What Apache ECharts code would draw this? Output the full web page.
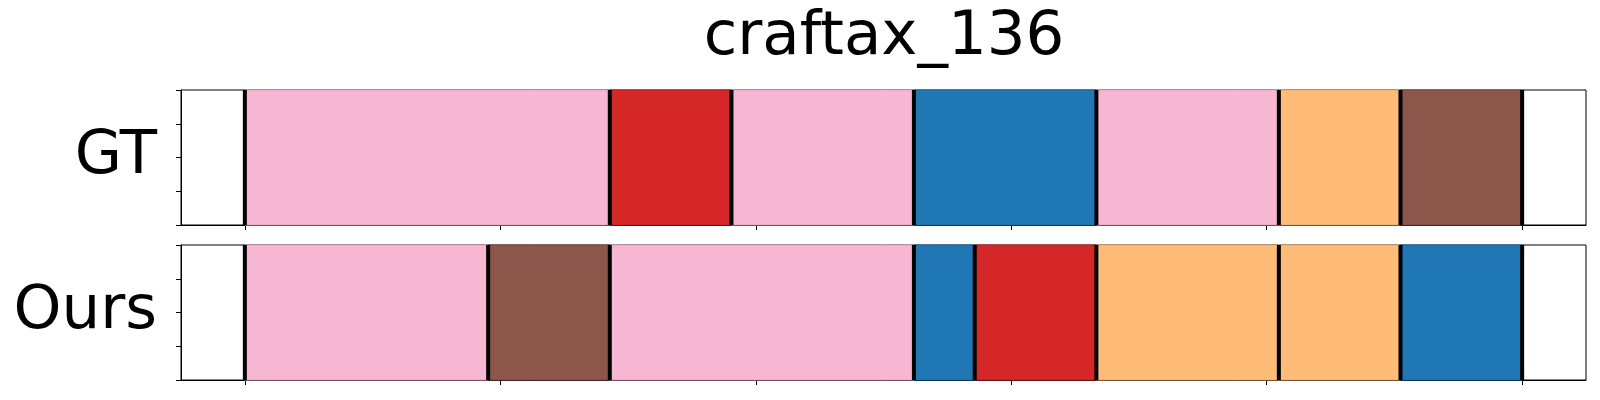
<!DOCTYPE html>
<html><head><meta charset="utf-8">
<script src="https://cdn.jsdelivr.net/npm/echarts@6/dist/echarts.min.js"></script>
<style>html,body{margin:0;padding:0;background:#fff}#c{width:1600px;height:400px}</style>
</head><body><div id="c"></div>
<script>
// ---- data ----
const chartTitle = 'craftax_136';
const rowNames = ['GT', 'Ours'];
const totalSteps = 21;
const gtLabels = ['pink', 'red', 'pink', 'blue', 'pink', 'orange', 'brown'];
const gtLengths = [6, 2, 3, 3, 3, 2, 2];
const oursLabels = ['pink', 'brown', 'pink', 'blue', 'red', 'orange', 'orange', 'blue'];
const oursLengths = [4, 2, 5, 1, 2, 3, 2, 2];
const xTicks = [0, 0.2, 0.4, 0.6, 0.8, 1.0];
const yTicks = [0, 0.25, 0.5, 0.75, 1];

// ---- styles ----
const colorMap = {
  pink: '#f7b6d2', red: '#d62728', blue: '#1f77b4', orange: '#ffbb78', brown: '#8c564b'
};
const edgeMap = {
  pink: '#e3a3bf', red: '#c22323', blue: '#1c6ca4', orange: '#eaa969', brown: '#7e4d43'
};
const FONT = 'DejaVu Sans';

function buildSegments(labels, lengths) {
  const segs = []; const bounds = [0];
  let acc = 0;
  labels.forEach((lab, i) => {
    const s = acc / totalSteps; acc += lengths[i]; const e = acc / totalSteps;
    segs.push({ value: [s, e], label: lab });
    bounds.push(e);
  });
  return { segs, bounds };
}
const rows = [buildSegments(gtLabels, gtLengths), buildSegments(oursLabels, oursLengths)];

const grids = [
  { left: 181, right: 14, top: 90, height: 135 },
  { left: 181, right: 14, top: 245, height: 135 }
].map(g => Object.assign(g, { show: true, borderColor: '#000', borderWidth: 1, backgroundColor: '#fff', containLabel: false }));

const xAxes = grids.map((g, i) => ({
  type: 'value', gridIndex: i, min: -0.05, max: 1.05,
  axisLine: { show: true, onZero: false, lineStyle: { color: '#000', width: 1 } },
  axisTick: { show: true, customValues: xTicks, length: 5, lineStyle: { color: '#000', width: 1 } },
  axisLabel: { show: false, customValues: xTicks },
  splitLine: { show: false }
}));
const yAxes = grids.map((g, i) => ({
  type: 'value', gridIndex: i, min: 0, max: 1,
  name: rowNames[i], nameLocation: 'middle', nameRotate: 0, nameGap: 24,
  nameTextStyle: { fontSize: 61, color: '#000', fontFamily: FONT, align: 'right', verticalAlign: 'middle' },
  axisLine: { show: true, onZero: false, lineStyle: { color: '#000', width: 1 } },
  axisTick: { show: true, inside: false, customValues: yTicks, length: 5, lineStyle: { color: '#000', width: 1 } },
  axisLabel: { show: false, customValues: yTicks },
  splitLine: { show: false }
}));

const series = [];
rows.forEach((row, i) => {
  series.push({
    type: 'custom', xAxisIndex: i, yAxisIndex: i, z: 2,
    data: row.segs.map(s => ({ value: s.value, name: s.label })),
    renderItem: function (params, api) {
      const lab = row.segs[params.dataIndex].label;
      const p0 = api.coord([api.value(0), 1]);
      const p1 = api.coord([api.value(1), 0]);
      return {
        type: 'rect',
        shape: { x: p0[0], y: p0[1], width: p1[0] - p0[0], height: p1[1] - p0[1] },
        style: { fill: colorMap[lab], stroke: edgeMap[lab], lineWidth: 1 }
      };
    }
  });
  series.push({
    type: 'custom', xAxisIndex: i, yAxisIndex: i, z: 3,
    data: row.bounds.map(b => [b]),
    renderItem: function (params, api) {
      const p0 = api.coord([api.value(0), 1]);
      const p1 = api.coord([api.value(0), 0]);
      return {
        type: 'line',
        shape: { x1: p0[0], y1: p0[1], x2: p1[0], y2: p1[1] },
        style: { stroke: '#000', lineWidth: 4 }
      };
    }
  });
});

const chart = echarts.init(document.getElementById('c'), null, { renderer: 'canvas' });
chart.setOption({
  animation: false,
  backgroundColor: '#fff',
  title: {
    text: chartTitle, left: 879, top: 3, textAlign: 'center',
    textStyle: { fontSize: 61, fontWeight: 'normal', color: '#000', fontFamily: FONT }
  },
  grid: grids, xAxis: xAxes, yAxis: yAxes, series: series
});
</script>
</body></html>
